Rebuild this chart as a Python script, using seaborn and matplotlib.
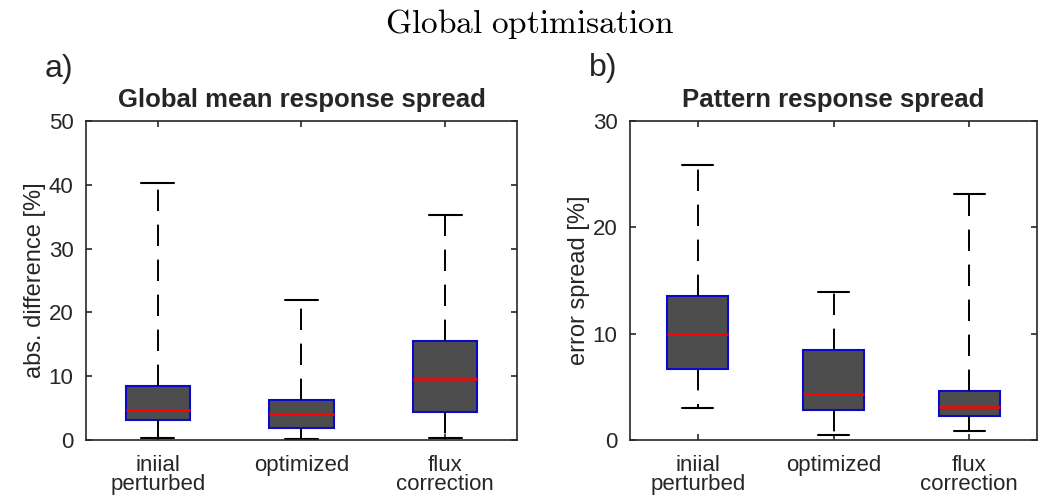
import numpy as np
import pandas as pd
import matplotlib
matplotlib.use("Agg")
import matplotlib.pyplot as plt
import seaborn as sns

# ---- data ----
categories = ["iniial\nperturbed", "optimized", "flux\ncorrection"]
# five-number summaries: [whisker low, q1, median, q3, whisker high]
gm_initial = [0.3, 3.1, 4.7, 8.5, 40.3]
gm_optimized = [0.2, 1.9, 4.1, 6.2, 21.9]
gm_flux = [0.3, 4.4, 9.6, 15.5, 35.3]
pat_initial = [3.0, 6.7, 10.0, 13.5, 25.9]
pat_optimized = [0.5, 2.8, 4.3, 8.5, 13.9]
pat_flux = [0.8, 2.3, 3.1, 4.6, 23.1]

left_yticks = [0, 10, 20, 30, 40, 50]
right_yticks = [0, 10, 20, 30]

sns.set_style("ticks")
plt.rcParams["font.family"] = ["Liberation Sans", "DejaVu Sans"]
plt.rcParams["mathtext.fontset"] = "cm"
plt.rcParams["lines.scale_dashes"] = True

SPINE = "#262626"
FS = 16


def make_df(groups):
    rows = []
    for cat, vals in zip(categories, groups):
        for v in vals:
            rows.append((cat, v))
    return pd.DataFrame(rows, columns=["cat", "val"])


fig = plt.figure(figsize=(10.4, 5.0), dpi=100)
axL = fig.add_axes([0.0827, 0.12, 0.4144, 0.638])
axR = fig.add_axes([0.6058, 0.12, 0.3913, 0.638])


def draw(ax, groups, ylim, yticks, title, ylabel):
    df = make_df(groups)
    sns.boxplot(
        data=df, x="cat", y="val", order=categories, ax=ax,
        whis=np.inf, width=0.45, color="#4d4d4d", fill=True,
        linecolor="#0a0ac8", linewidth=1.5, capwidths=0.23,
        boxprops=dict(facecolor="#4d4d4d", edgecolor="#0a0ac8", linewidth=1.5),
        medianprops=dict(color="#ff0000", linewidth=1.8),
        whiskerprops=dict(color="black", linewidth=1.4, linestyle=(0, (11, 7))),
        capprops=dict(color="black", linewidth=1.5),
    )
    ax.set_xlim(-0.5, 2.5)
    ax.set_ylim(*ylim)
    ax.set_yticks(yticks)
    ax.set_xlabel("")
    ax.set_ylabel(ylabel, fontsize=17, color=SPINE, labelpad=2)
    ax.set_title(title, fontsize=18.5, fontweight="bold", pad=10)
    for s in ax.spines.values():
        s.set_visible(True)
        s.set_color(SPINE)
        s.set_linewidth(1.2)
    ax.tick_params(axis="both", direction="in", length=4, width=1.2,
                   color=SPINE, labelcolor=SPINE, labelsize=FS,
                   top=True, right=True)
    ax.tick_params(axis="x", pad=11)
    ax.tick_params(axis="y", pad=9)
    for lab in ax.get_xticklabels():
        lab.set_linespacing(0.85)
    ax.grid(False)


draw(axL, [gm_initial, gm_optimized, gm_flux], (0, 50), left_yticks,
     "Global mean response spread", "abs. difference [%]")
draw(axR, [pat_initial, pat_optimized, pat_flux], (0, 30), right_yticks,
     "Pattern response spread", "error spread [%]")

fig.text(0.509, 0.952, r"$\mathrm{Global\ optimisation}$", fontsize=24,
         ha="center", va="center", color="black")
fig.text(0.057, 0.862, "a)", fontsize=23, ha="center", va="center")
fig.text(0.58, 0.864, "b)", fontsize=23, ha="center", va="center")

fig.savefig("out.png", dpi=100)
